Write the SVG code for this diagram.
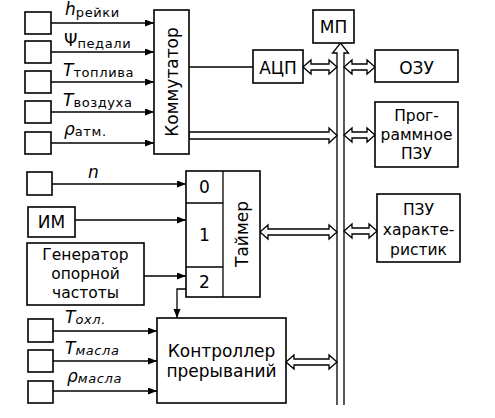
<svg xmlns="http://www.w3.org/2000/svg" width="495" height="418" viewBox="0 0 495 418">
<style>
.box{fill:#fff;stroke:#000;stroke-width:1.6}
.ln{fill:none;stroke:#000;stroke-width:1.3}
.dbl{fill:#fff;stroke:#000;stroke-width:1.3;stroke-linejoin:miter}
text{font-family:"DejaVu Sans","Liberation Sans",sans-serif;fill:#000}
.t{font-size:17px}
.s{font-size:15.5px}
.c{text-anchor:middle}
.sym{font-size:17px;font-style:italic}
.up{font-style:normal}
.sub{font-size:13px}
.isub{font-size:13px;font-style:italic}
</style>
<defs>
<marker id="ah" markerWidth="10" markerHeight="8" refX="9" refY="3.5" orient="auto" markerUnits="userSpaceOnUse">
<path d="M0,0 L9,3.5 L0,7 z" fill="#000"/>
</marker>
</defs>
<rect width="495" height="418" fill="#fff"/>

<g id="connectors">
<line class="ln" x1="51" y1="23" x2="154" y2="23" marker-end="url(#ah)"/>
<line class="ln" x1="51" y1="52" x2="154" y2="52" marker-end="url(#ah)"/>
<line class="ln" x1="51" y1="82" x2="154" y2="82" marker-end="url(#ah)"/>
<line class="ln" x1="51" y1="112" x2="154" y2="112" marker-end="url(#ah)"/>
<line class="ln" x1="51" y1="143" x2="154" y2="143" marker-end="url(#ah)"/>
<line class="ln" x1="189" y1="67" x2="253" y2="67"/>
<line class="ln" x1="52" y1="184" x2="186" y2="184" marker-end="url(#ah)"/>
<line class="ln" x1="75" y1="220" x2="186" y2="220" marker-end="url(#ah)"/>
<line class="ln" x1="144" y1="276" x2="186" y2="276" marker-end="url(#ah)"/>
<polyline class="ln" points="186,289 177,289 177,318" marker-end="url(#ah)"/>
<line class="ln" x1="53" y1="331" x2="157" y2="331" marker-end="url(#ah)"/>
<line class="ln" x1="53" y1="361" x2="157" y2="361" marker-end="url(#ah)"/>
<line class="ln" x1="53" y1="391" x2="157" y2="391" marker-end="url(#ah)"/>
<polyline class="dbl" points="337,405 337,53 332.5,53 340.5,43 348.5,53 344,53 344,405"/>
<polygon class="dbl" points="303,67 311,60 311,64 329,64 329,60 337,67 329,74 329,70 311,70 311,74"/>
<polygon class="dbl" points="344,67 352,60 352,64 367,64 367,60 375,67 367,74 367,70 352,70 352,74"/>
<polygon class="dbl" points="189,132 329,132 329,128 337,135.5 329,143 329,139 189,139"/>
<polygon class="dbl" points="344,135 352,128 352,132 367,132 367,128 375,135 367,142 367,138 352,138 352,142"/>
<polygon class="dbl" points="260,232 268,225 268,229 329,229 329,225 337,232 329,239 329,235 268,235 268,239"/>
<polygon class="dbl" points="344,231 352,224 352,228 369,228 369,224 377,231 369,238 369,234 352,234 352,238"/>
<polygon class="dbl" points="286,362 294,355 294,359 329,359 329,355 337,362 329,369 329,365 294,365 294,369"/>
</g>

<g id="s1"><rect class="box" x="25" y="12" width="26" height="22"/></g>
<g id="s2"><rect class="box" x="25" y="41" width="26" height="22"/></g>
<g id="s3"><rect class="box" x="25" y="71" width="26" height="22"/></g>
<g id="s4"><rect class="box" x="25" y="101" width="26" height="22"/></g>
<g id="s5"><rect class="box" x="25" y="132" width="26" height="22"/></g>

<g id="labels-top">
<text x="65" y="15"><tspan class="sym">h</tspan><tspan class="sub" dy="2" letter-spacing="0.6">рейки</tspan></text>
<text x="64" y="46"><tspan class="sym up">Ψ</tspan><tspan class="sub" dy="2" letter-spacing="0.6">педали</tspan></text>
<text x="63" y="76"><tspan class="sym">T</tspan><tspan class="sub" dy="1" letter-spacing="0.6">топлива</tspan></text>
<text x="63" y="106"><tspan class="sym">T</tspan><tspan class="sub" dy="1" letter-spacing="0.6">воздуха</tspan></text>
<text x="64" y="135"><tspan class="sym">ρ</tspan><tspan class="sub" dy="1" letter-spacing="0.6">атм.</tspan></text>
</g>

<g id="kommutator">
<rect class="box" x="154" y="10" width="35" height="144"/>
<text class="t c" transform="translate(171.5,82) rotate(-90)" dominant-baseline="central">Коммутатор</text>
</g>

<g id="adc">
<rect class="box" x="253" y="50" width="50" height="33"/>
<text class="t c" x="278" y="74">АЦП</text>
</g>

<g id="mp">
<rect class="box" x="313" y="10" width="41" height="33"/>
<text class="t c" x="333.5" y="33">МП</text>
</g>

<g id="ozu">
<rect class="box" x="375" y="50" width="83" height="32"/>
<text class="t c" x="416.5" y="74">ОЗУ</text>
</g>

<g id="prog-pzu">
<rect class="box" x="375" y="102" width="83" height="65"/>
<text class="s c" x="416.5" y="121">Прог-</text>
<text class="s c" x="416.5" y="140">раммное</text>
<text class="s c" x="416.5" y="159">ПЗУ</text>
</g>

<g id="pzu-char">
<rect class="box" x="377" y="194" width="83" height="68"/>
<text class="s c" x="418.5" y="215">ПЗУ</text>
<text class="s c" x="418.5" y="235">характе-</text>
<text class="s c" x="418.5" y="255">ристик</text>
</g>

<g id="sn"><rect class="box" x="27" y="172" width="25" height="23"/>
<text class="sym" x="88" y="178">n</text></g>

<g id="im"><rect class="box" x="28" y="207" width="47" height="30"/>
<text class="t c" x="51.5" y="228">ИМ</text></g>

<g id="generator"><rect class="box" x="27" y="243" width="117" height="62"/>
<text class="s c" x="85.5" y="260">Генератор</text>
<text class="s c" x="85.5" y="279">опорной</text>
<text class="s c" x="85.5" y="298">частоты</text></g>

<g id="timer">
<rect class="box" x="186" y="171" width="74" height="126"/>
<line class="ln" x1="223" y1="171" x2="223" y2="297"/>
<line class="ln" x1="186" y1="203" x2="223" y2="203"/>
<line class="ln" x1="186" y1="267" x2="223" y2="267"/>
<text class="t c" x="204.5" y="193">0</text>
<text class="t c" x="204.5" y="241">1</text>
<text class="t c" x="204.5" y="288">2</text>
<text class="t c" transform="translate(242,234) rotate(-90)" dominant-baseline="central">Таймер</text>
</g>

<g id="b1"><rect class="box" x="28" y="319" width="25" height="23"/></g>
<g id="b2"><rect class="box" x="28" y="350" width="25" height="22"/></g>
<g id="b3"><rect class="box" x="28" y="381" width="25" height="22"/></g>

<g id="labels-bottom">
<text x="65" y="323"><tspan class="sym">T</tspan><tspan class="isub" dy="1" letter-spacing="0.6">охл.</tspan></text>
<text x="65" y="354"><tspan class="sym">T</tspan><tspan class="isub" dy="1" letter-spacing="0.6">масла</tspan></text>
<text x="67" y="382"><tspan class="sym">ρ</tspan><tspan class="isub" dy="1" letter-spacing="0.6">масла</tspan></text>
</g>

<g id="controller">
<rect class="box" x="157" y="318" width="129" height="85"/>
<text class="t c" x="221.5" y="357">Контроллер</text>
<text class="t c" x="221.5" y="377">прерываний</text>
</g>
</svg>
